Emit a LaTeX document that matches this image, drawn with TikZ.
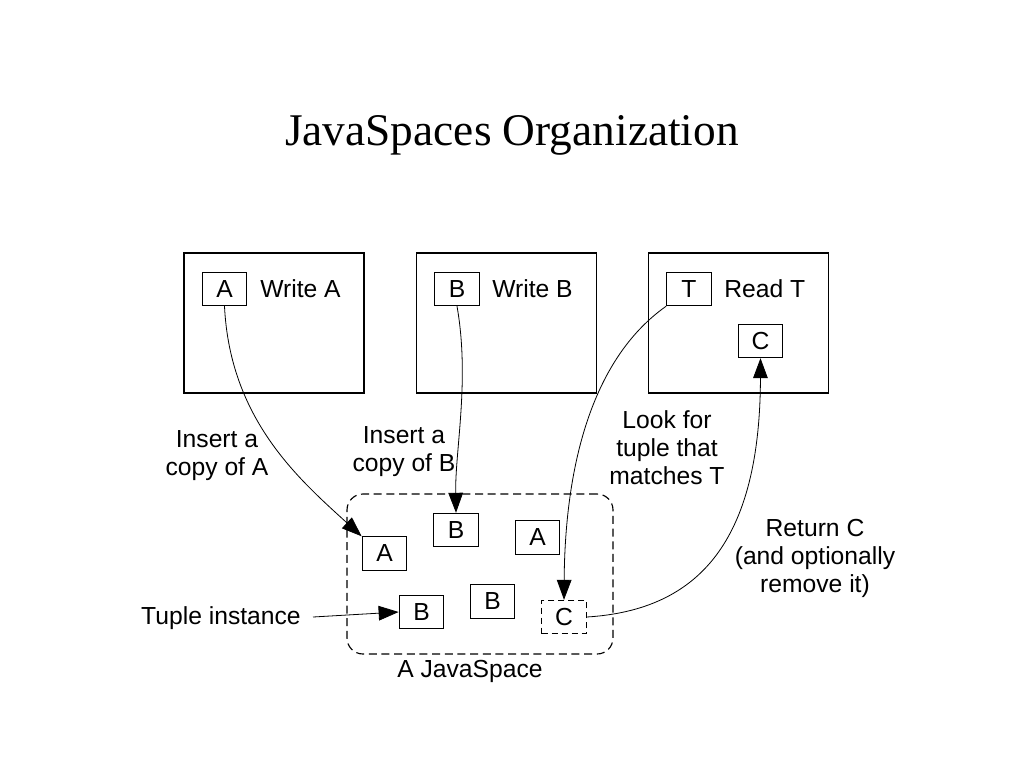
\documentclass[tikz,border=0pt]{standalone}
\usepackage{fontspec}
\setmainfont{Liberation Serif}
\newfontfamily\arial{Liberation Sans}
\usetikzlibrary{arrows.meta}
\begin{document}
\begin{tikzpicture}[x=0.75pt,y=-0.75pt,
  lbl/.style={font=\arial\fontsize{18.5}{21}\selectfont, align=center, inner sep=0},
  big/.style={draw, line width=0.8pt, minimum width=135pt, minimum height=105pt, inner sep=0},
  tup/.style={draw, line width=0.8pt, minimum width=33.5pt, minimum height=25pt, inner sep=0, font=\arial\fontsize{18.5}{21}\selectfont},
  conn/.style={line width=0.6pt, -{Triangle[length=15pt,width=11pt]}}]
\useasboundingbox (0,0) rectangle (1024,768);
\node[font=\fontsize{34}{38}\selectfont] (title) at (512,135) {JavaSpaces Organization};
% top boxes
\node[big] (w1) at (274,323) {};
\node[big] (w2) at (506.5,323) {};
\node[big] (w3) at (738.5,323) {};
\node[tup] (a0) at (224.5,289) {A};
\node[lbl, anchor=west] (wa) at (260,289) {Write A};
\node[tup] (b0) at (457,289) {B};
\node[lbl, anchor=west] (wb) at (492,289) {Write B};
\node[tup] (t0) at (689,289) {T};
\node[lbl, anchor=west] (rt) at (724,289) {Read T};
\node[tup] (c0) at (760.5,341) {C};
% space
\node[draw, dash pattern=on 6pt off 3.5pt, line width=0.85pt, rounded corners=12pt, minimum width=199.5pt, minimum height=120pt, inner sep=0] (space) at (480,574) {};
\node[lbl] (spl) at (470,671) {A JavaSpace};
\node[tup] (a1) at (384.5,553.5) {A};
\node[tup] (b1) at (456,530) {B};
\node[tup] (a2) at (537.5,537.5) {A};
\node[tup] (b2) at (421.5,612) {B};
\node[tup] (b3) at (492.5,601.5) {B};
\node[tup, dash pattern=on 4.5pt off 3pt] (c1) at (564,617) {C};
% labels
\node[lbl] (ia) at (217,456) {Insert a\\copy of A};
\node[lbl] (ib) at (404,452) {Insert a\\copy of B};
\node[lbl] (lf) at (667,448) {Look for\\tuple that\\matches T};
\node[lbl] (rc) at (815,558) {Return C\\(and optionally\\remove it)};
\node[lbl, anchor=east] (ti) at (301,618) {Tuple instance};
\coordinate (tis) at (313,617);
% connectors
\draw[conn] (a0.south) .. controls (230,420) and (300,480) .. (a1.north west);
\draw[conn] (b0.south) .. controls (470,380) and (455,450) .. (b1.north);
\draw[conn] (t0.south west) .. controls (590,360) and (565,470) .. (c1.north);
\draw[conn] (c1.east) .. controls (700,610) and (760,540) .. (c0.south);
\draw[conn] (tis) -- (b2.west);
\end{tikzpicture}
\end{document}
